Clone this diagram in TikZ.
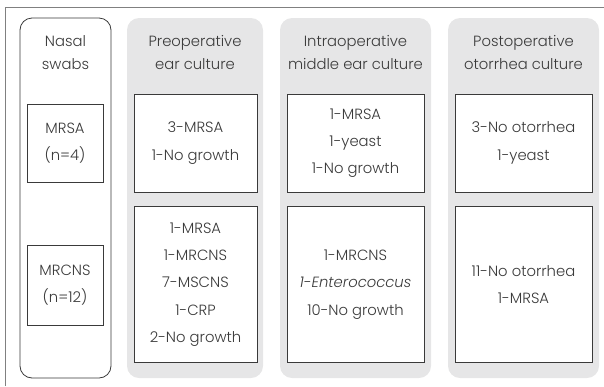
\documentclass[tikz,border=0pt]{standalone}
\usepackage{fontspec}
\setmainfont{Poppins}[UprightFont=* Light, ItalicFont=* Light Italic]
\usepackage{xcolor}
\usetikzlibrary{positioning}
\definecolor{colgrey}{HTML}{E6E6E7}
\definecolor{txtgrey}{HTML}{3A3A3A}
\definecolor{framegrey}{HTML}{808080}

\begin{document}
\begin{tikzpicture}[x=1pt, y=-1pt,
  column/.style={rectangle, rounded corners=12pt, fill=colgrey, minimum height=360pt, inner sep=0pt},
  swab/.style={rectangle, rounded corners=12pt, draw=txtgrey, line width=0.8pt, fill=white, minimum width=91pt, minimum height=360pt, inner sep=0pt},
  result/.style={rectangle, draw=txtgrey, line width=0.8pt, fill=white, text=txtgrey, align=center, inner sep=0pt, font=\fontsize{14.8}{27.2}\selectfont},
  header/.style={text=txtgrey, align=center, font=\fontsize{14.8}{23}\selectfont}
]
\useasboundingbox (0,0) rectangle (604,386);

% Frame
\draw[framegrey, line width=0.9pt] (5,386) -- (5,7) -- (604,7);

% Columns
\node[swab] (nasal) at (65.5,198) {};
\node[column, minimum width=136pt] (preop) at (195,198) {};
\node[column, minimum width=151pt] (intraop) at (355.5,198) {};
\node[column, minimum width=151pt] (postop) at (523.5,198) {};

% Headers
\node[header] (nasalhead) at (65.5,52.5) {Nasal\\swabs};
\node[header] (preophead) at (195,52.5) {Preoperative\\ear culture};
\node[header] (intraophead) at (355.5,52.5) {Intraoperative\\middle ear culture};
\node[header] (postophead) at (523.5,52.5) {Postoperative\\otorrhea culture};

% Nasal swab groups
\node[result, minimum width=76pt, minimum height=78pt] (mrsa) at (65,143) {MRSA\\(n=4)};
\node[result, minimum width=76pt, minimum height=80pt] (mrcns) at (65,285) {MRCNS\\(n=12)};

% MRSA row
\node[result, minimum width=123pt, minimum height=98pt] (preopA) at (195.5,143) {3-MRSA\\1-No growth};
\node[result, minimum width=137pt, minimum height=98pt] (intraopA) at (355.5,143) {1-MRSA\\1-yeast\\1-No growth};
\node[result, minimum width=137pt, minimum height=98pt] (postopA) at (523.5,143) {3-No otorrhea\\1-yeast};

% MRCNS row
\node[result, minimum width=123pt, minimum height=156pt] (preopB) at (195.5,284.5) {1-MRSA\\1-MRCNS\\7-MSCNS\\1-CRP\\2-No growth};
\node[result, minimum width=137pt, minimum height=156pt] (intraopB) at (355.5,284.5) {1-MRCNS\\\textit{1-Enterococcus}\\10-No growth};
\node[result, minimum width=137pt, minimum height=156pt] (postopB) at (523.5,284.5) {11-No otorrhea\\1-MRSA};

\end{tikzpicture}
\end{document}
